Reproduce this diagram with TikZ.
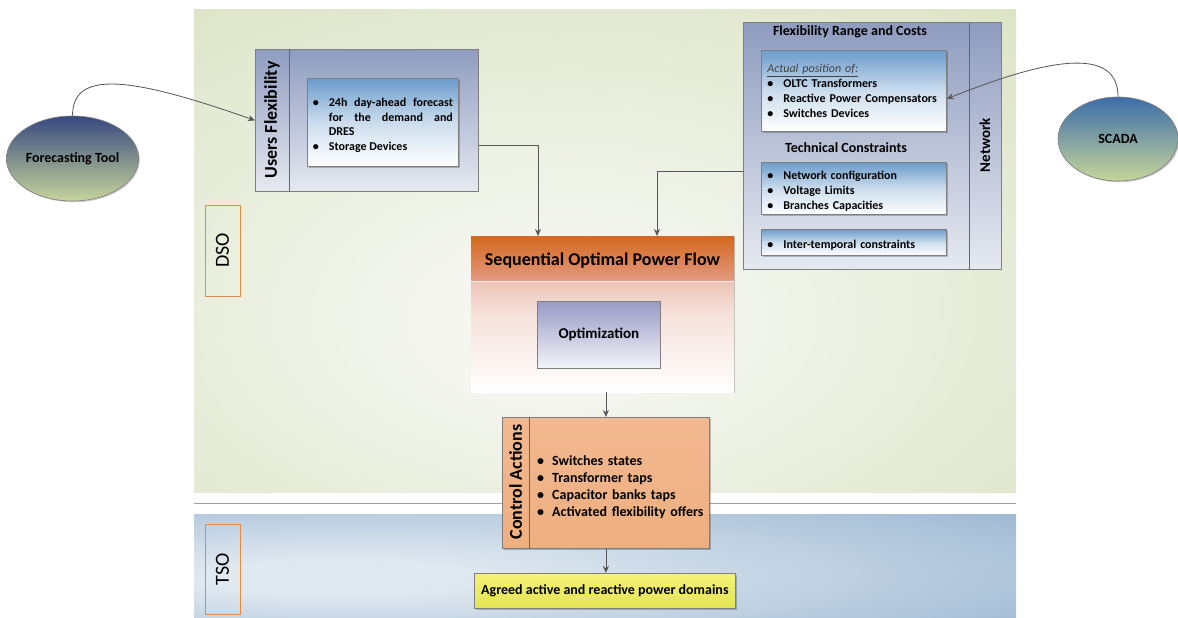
\documentclass[tikz,border=0pt]{standalone}
\usepackage{fontspec}
\setmainfont{Carlito}
\usetikzlibrary{arrows.meta,shadows,shapes.geometric}

% palette
\definecolor{dsoedge}{HTML}{D3DDB7}
\definecolor{dsocore}{HTML}{F4F6EF}
\definecolor{tsoedge}{HTML}{93B1CE}
\definecolor{tsocore}{HTML}{E0E8F0}
\definecolor{paneltop}{HTML}{8F9CC0}
\definecolor{panelbot}{HTML}{E6E9F0}
\definecolor{listtop}{HTML}{6B9CCB}
\definecolor{frame}{HTML}{7F7F7F}
\definecolor{hdrtop}{HTML}{D4681F}
\definecolor{hdrbot}{HTML}{E29A80}
\definecolor{bodytop}{HTML}{E09C86}
\definecolor{opttop}{HTML}{989AC4}
\definecolor{optbot}{HTML}{F4F4FA}
\definecolor{ctrltop}{HTML}{F2B890}
\definecolor{ctrlbot}{HTML}{EEAF80}
\definecolor{agrtop}{HTML}{F5F375}
\definecolor{agrbot}{HTML}{E3E356}
\definecolor{fctop}{HTML}{374880}
\definecolor{scadatop}{HTML}{3C6DA8}
\definecolor{toolbot}{HTML}{C6D59B}
\definecolor{tagline}{HTML}{E38A45}
\definecolor{wire}{HTML}{555555}
\definecolor{sepgray}{HTML}{A0A0A0}

% soft glow for the two domain areas
\pgfdeclareradialshading{dsoglow}{\pgfpoint{-3bp}{-8bp}}{color(0bp)=(dsocore); color(8bp)=(dsocore); color(52bp)=(dsoedge); color(95bp)=(dsoedge)}
\pgfdeclareradialshading{tsoglow}{\pgfpoint{-18bp}{-6bp}}{color(0bp)=(tsocore); color(8bp)=(tsocore); color(52bp)=(tsoedge); color(95bp)=(tsoedge)}

% bullet item with hanging indent
\newcommand{\bitem}[2][16pt]{\par\hangindent=#1\hangafter=1\noindent\makebox[#1][l]{\textbullet}#2\par}

\tikzset{
  softshadow/.style={drop shadow={shadow xshift=1.2pt,shadow yshift=-1.2pt,opacity=0.22,fill=black}},
  panel/.style={draw=frame,line width=0.8pt,top color=paneltop,bottom color=panelbot,
    anchor=north west,inner sep=0pt},
  listbox/.style={draw=frame,line width=0.8pt,top color=listtop,bottom color=white,
    middle color=listtop!35!white,anchor=north west,inner ysep=0pt,softshadow},
  divider/.style={draw=frame!80!black,line width=0.8pt},
  sidelabel/.style={rotate=90,font=\bfseries\fontsize{18}{20}\selectfont},
  heading/.style={font=\bfseries\fontsize{14}{16}\selectfont},
  tag/.style={draw=tagline,line width=0.8pt,rotate=90,inner sep=0pt,
    font=\fontsize{20}{22}\selectfont},
  tool/.style={ellipse,draw=frame,line width=0.6pt,bottom color=toolbot,inner sep=0pt,
    font=\bfseries\fontsize{14}{16}\selectfont,softshadow},
  link/.style={draw=wire,line width=0.8pt,-{Stealth[length=7pt,width=6pt]}},
}

\begin{document}
\begin{tikzpicture}[x=1pt,y=-1pt]
\useasboundingbox (0,0) rectangle (1178,618);
\fill[white] (0,0) rectangle (1178,618);

% domain areas and their separator
\shade[shading=dsoglow] (194,10) rectangle (1016,492);
\shade[shading=tsoglow] (194,514) rectangle (1016,618);
\draw[sepgray,line width=1.6pt] (194,503.5) -- (1016,503.5);

\node[tag,minimum width=91,minimum height=35] (dso) at (222.5,250.5) {DSO};
\node[tag,minimum width=90,minimum height=35] (tso) at (222.5,569) {TSO};

% external tools
\node[tool,top color=fctop,minimum width=129,minimum height=85] (fc) at (72.5,158.5) {Forecasting Tool};
\node[tool,top color=scadatop,minimum width=120,minimum height=84] (sc) at (1118,139) {SCADA};

% users flexibility
\node[panel,minimum width=223,minimum height=142] (uf) at (255,49) {};
\draw[divider] ([xshift=34pt]uf.north west) -- ([xshift=34pt]uf.south west);
\node[sidelabel] (ufl) at (272,120) {Users Flexibility};
\node[listbox,minimum height=88,text width=140pt,inner xsep=5.5pt,align=justify,
  font=\bfseries\fontsize{12}{14.5}\selectfont] (ufb) at (307,78)
  {\bitem{24h day-ahead forecast\linebreak for the demand and\linebreak DRES}\bitem{Storage Devices}};

% network
\node[panel,minimum width=258,minimum height=247] (nw) at (743,22) {};
\draw[divider] ([xshift=226pt]nw.north west) -- ([xshift=226pt]nw.south west);
\node[rotate=90,font=\bfseries\fontsize{15}{17}\selectfont] (nwl) at (985,145) {Network};
\node[heading] (frc) at (850,32) {Flexibility Range and Costs};
\node[listbox,minimum height=81,text width=173pt,inner xsep=6pt,align=left,
  font=\bfseries\fontsize{12}{15}\selectfont] (nb1) at (761,50)
  {\noindent{\mdseries\itshape\color{black!75}\underline{Actual position of:}}\par
   \bitem{OLTC Transformers}\bitem{Reactive Power Compensators}\bitem{Switches Devices}};
\node[heading] (tc) at (846,148) {Technical Constraints};
\node[listbox,minimum height=52,text width=173pt,inner xsep=6pt,align=left,
  font=\bfseries\fontsize{12}{15}\selectfont] (nb2) at (761,162)
  {\bitem{Network configuration}\bitem{Voltage Limits}\bitem{Branches Capacities}};
\node[listbox,minimum height=26,text width=173pt,inner xsep=6pt,align=left,
  font=\bfseries\fontsize{12}{15}\selectfont] (nb3) at (761,229)
  {\bitem{Inter-temporal constraints}};

% sequential optimal power flow
\node[anchor=north west,inner sep=0pt,minimum width=263,minimum height=156,
  top color=bodytop,bottom color=white,middle color=bodytop!30!white,softshadow] (sopf) at (471,236) {};
\node[anchor=north west,inner sep=0pt,minimum width=263,minimum height=45,
  top color=hdrtop,bottom color=hdrbot] (sopfh) at (471,236) {};
\draw[white!85!hdrbot,line width=1pt] (sopfh.south west) -- (sopfh.south east);
\node[font=\bfseries\fontsize{18}{20}\selectfont] (sopft) at (602.5,261) {Sequential Optimal Power Flow};
\node[anchor=north west,draw=frame,line width=0.8pt,inner sep=0pt,minimum width=123,minimum height=67,
  top color=opttop,bottom color=optbot,font=\bfseries\fontsize{15}{17}\selectfont] (opt) at (537,301) {Optimization};

% control actions
\node[anchor=north west,draw=frame,line width=0.8pt,inner sep=0pt,minimum width=207,minimum height=131,
  top color=ctrltop,bottom color=ctrlbot,softshadow] (ca) at (502,417) {};
\draw[divider] ([xshift=27pt]ca.north west) -- ([xshift=27pt]ca.south west);
\node[sidelabel] (cal) at (515.5,482) {Control Actions};
\node[anchor=west,inner sep=0pt,text width=170pt,align=left,
  font=\bfseries\fontsize{14}{17}\selectfont] (cab) at (537,483.5)
  {\bitem[15pt]{Switches states}\bitem[15pt]{Transformer taps}\bitem[15pt]{Capacitor banks taps}\bitem[15pt]{Activated flexibility offers}};

% agreed domains
\node[anchor=north west,draw=frame,line width=0.8pt,inner sep=0pt,minimum width=261,minimum height=35,
  top color=agrtop,bottom color=agrbot,font=\bfseries\fontsize{14}{16}\selectfont,softshadow] (ag) at (474,573)
  {Agreed active and reactive power domains};

% connectors
\draw[link] (fc.north) .. controls +(0,-46) and +(-125,-44) .. (uf.west);
\draw[link] (sc.north) .. controls +(0,-46) and +(114,-46) .. ([yshift=-8pt]nb1.east);
\draw[link] ([yshift=-25pt]uf.east) -| (sopf.north -| 538,0);
\draw[link] ([yshift=-25pt]nw.west) -| (sopf.north -| 657,0);
\draw[link] (ca.north |- sopf.south) -- (ca.north);
\draw[link] (ca.south) -- (ca.south |- ag.north);
\end{tikzpicture}
\end{document}
